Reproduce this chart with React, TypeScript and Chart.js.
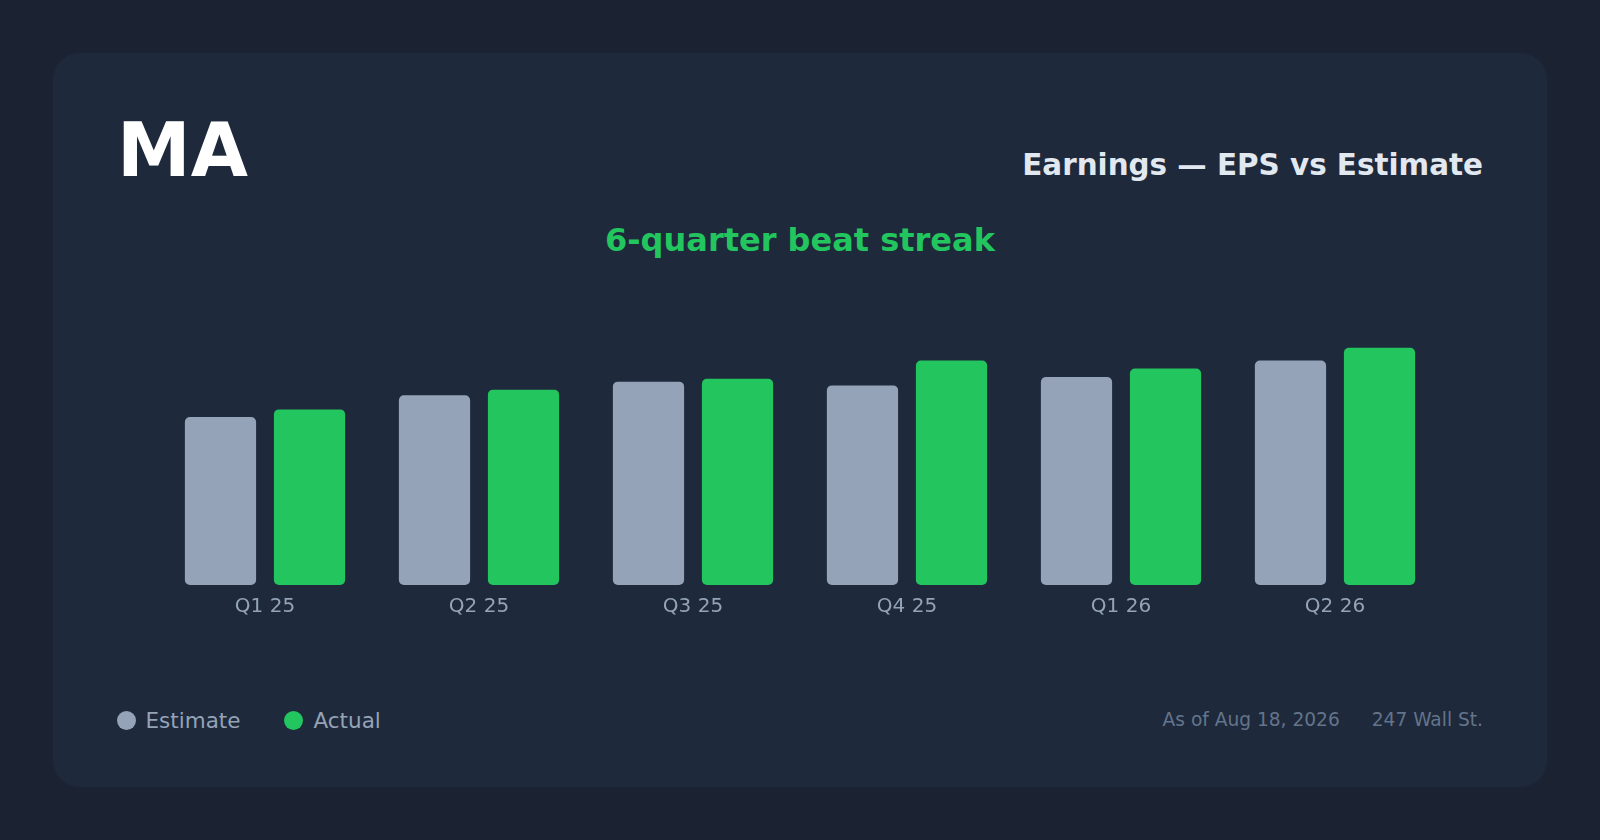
import { useEffect, useRef } from "react"
import { Chart, registerables } from "chart.js"

Chart.register(...registerables)

// EPS per quarter
const quarters = ["Q1 25", "Q2 25", "Q3 25", "Q4 25", "Q1 26", "Q2 26"]
const estimateEps = [3.57, 4.03, 4.32, 4.24, 4.42, 4.77]
const actualEps = [3.73, 4.15, 4.38, 4.77, 4.6, 5.04]
const seriesNames = ["Estimate", "Actual"]
const seriesColors = ["#94a3b8", "#22c55e"]

const FONT = "'DejaVu Sans', 'Noto Sans', sans-serif"

function EpsChart() {
  const chartRef = useRef<HTMLCanvasElement>(null)
  const chartInstance = useRef<Chart | null>(null)

  useEffect(() => {
    if (!chartRef.current) return
    if (chartInstance.current) chartInstance.current.destroy()

    const ctx = chartRef.current.getContext("2d")
    if (!ctx) return

    chartInstance.current = new Chart(ctx, {
      type: "bar",
      data: {
        labels: quarters,
        datasets: [
          {
            label: seriesNames[0],
            data: estimateEps,
            backgroundColor: seriesColors[0],
            borderRadius: 5,
            borderSkipped: false,
            categoryPercentage: 0.832,
            barPercentage: 0.8,
          },
          {
            label: seriesNames[1],
            data: actualEps,
            backgroundColor: seriesColors[1],
            borderRadius: 5,
            borderSkipped: false,
            categoryPercentage: 0.832,
            barPercentage: 0.8,
          },
        ],
      },
      options: {
        responsive: true,
        maintainAspectRatio: false,
        animation: false,
        layout: { padding: 0 },
        plugins: {
          legend: { display: false },
          tooltip: { enabled: false },
        },
        scales: {
          x: {
            grid: { display: false, drawTicks: false },
            border: { display: false },
            ticks: {
              color: "#94a3b8",
              padding: 10,
              font: { family: FONT, size: 20 },
            },
          },
          y: {
            display: false,
            min: 0,
            max: 6.5,
          },
        },
      },
    })

    return () => {
      if (chartInstance.current) {
        chartInstance.current.destroy()
        chartInstance.current = null
      }
    }
  }, [])

  return (
    <div style={{ position: "absolute", left: 158, top: 279, width: 1284, height: 350 }}>
      <canvas ref={chartRef} />
    </div>
  )
}

export default function App() {
  return (
    <div
      style={{
        position: "absolute",
        left: 0,
        top: 0,
        width: 1600,
        height: 840,
        background: "#1b2333",
        fontFamily: FONT,
        overflow: "hidden",
      }}
    >
      <div
        style={{
          position: "absolute",
          left: 53,
          top: 53,
          width: 1494,
          height: 734,
          borderRadius: 27,
          background: "#1e293b",
        }}
      />

      <div
        style={{
          position: "absolute",
          left: 117,
          top: 113,
          fontSize: 74,
          fontWeight: 700,
          lineHeight: 1,
          color: "#ffffff",
        }}
      >
        MA
      </div>

      <div
        style={{
          position: "absolute",
          right: 117,
          top: 151.2,
          fontSize: 29.4,
          fontWeight: 700,
          lineHeight: 1,
          color: "#e2e8f0",
          whiteSpace: "nowrap",
        }}
      >
        Earnings — EPS vs Estimate
      </div>

      <div
        style={{
          position: "absolute",
          left: 0,
          width: 1600,
          top: 224,
          textAlign: "center",
          fontSize: 32,
          fontWeight: 700,
          lineHeight: 1,
          color: "#22c55e",
        }}
      >
        6-quarter beat streak
      </div>

      <EpsChart />

      <div
        style={{
          position: "absolute",
          left: 116.5,
          top: 710,
          height: 21.5,
          display: "flex",
          alignItems: "center",
          fontSize: 21.5,
          lineHeight: 1,
          color: "#94a3b8",
        }}
      >
        {seriesNames.map((name, i) => (
          <div key={name} style={{ display: "flex", alignItems: "center", marginRight: 44 }}>
            <span
              style={{
                width: 19,
                height: 19,
                borderRadius: "50%",
                background: seriesColors[i],
                marginRight: 10,
              }}
            />
            <span>{name}</span>
          </div>
        ))}
      </div>

      <div
        style={{
          position: "absolute",
          right: 117,
          top: 711.3,
          display: "flex",
          gap: 32,
          fontSize: 18.6,
          lineHeight: 1,
          color: "#64748b",
          whiteSpace: "nowrap",
        }}
      >
        <span>As of Aug 18, 2026</span>
        <span>247 Wall St.</span>
      </div>
    </div>
  )
}
